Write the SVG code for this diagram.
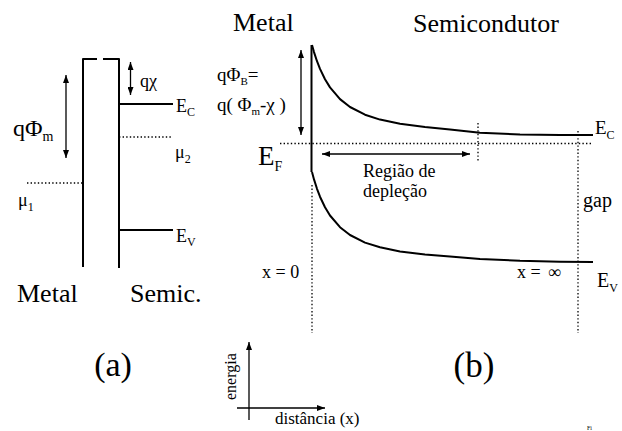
<svg xmlns="http://www.w3.org/2000/svg" width="622" height="431" viewBox="0 0 622 431">
<style>
text{font-family:"Liberation Serif","Times New Roman",serif;fill:#000}
.band{stroke:#000;stroke-width:2;fill:none;stroke-linejoin:round;stroke-linecap:butt}
.dot{stroke:#000;stroke-width:1.3;stroke-dasharray:1.4 2.2;fill:none}
.arr{stroke:#000;stroke-width:1.3;fill:none;marker-end:url(#ah);marker-start:url(#ah)}
.arr1{stroke:#000;stroke-width:1.3;fill:none;marker-end:url(#ah)}
.sub{font-size:12px}
</style>
<defs>
<marker id="ah" viewBox="0 0 8 6" refX="8" refY="3" markerWidth="8" markerHeight="6" markerUnits="userSpaceOnUse" orient="auto-start-reverse">
<path d="M0,0 L8,3 L0,6 z" fill="#000"/>
</marker>
</defs>
<rect width="622" height="431" fill="#fff"/>

<!-- Panel (a) -->
<g id="a-metal">
<path class="band" d="M83,267 V59 H97 M103,59 H119 V268"/>
<text x="17" y="302" font-size="26">Metal</text>
</g>
<g id="a-semic">
<line class="band" x1="119" y1="104" x2="173" y2="104"/>
<line class="band" x1="119" y1="230" x2="173" y2="230"/>
<text x="130" y="302" font-size="26">Semic.</text>
<text x="176" y="112" font-size="18">E<tspan class="sub" dy="4">C</tspan></text>
<text x="176" y="242" font-size="18">E<tspan class="sub" dy="4">V</tspan></text>
</g>
<g id="a-mu">
<line class="dot" x1="119" y1="137" x2="173" y2="137"/>
<line class="dot" x1="27" y1="183" x2="83" y2="183"/>
<text x="175" y="158" font-size="18">μ<tspan class="sub" dy="5">2</tspan></text>
<text x="18" y="206" font-size="18">μ<tspan class="sub" dy="5">1</tspan></text>
</g>
<g id="a-labels">
<text x="13" y="136" font-size="24">qΦ<tspan font-size="14" dy="5">m</tspan></text>
<text x="140" y="87" font-size="18">qχ</text>
<text x="113" y="376" font-size="34" text-anchor="middle">(a)</text>
</g>

<!-- Panel (b) -->
<g id="b-headers">
<text x="233" y="31" font-size="26">Metal</text>
<text x="413" y="32" font-size="26">Semicondutor</text>
<text x="474" y="377" font-size="35" text-anchor="middle">(b)</text>
</g>
<g id="b-bands">
<line class="band" x1="311.5" y1="45" x2="311.5" y2="172"/>
<polyline class="band" stroke-width="2.3" points="312,45 314,52.1 317,61.2 320,68.9 325,79.3 330,87.4 340,99.1 350,107 365,114.7 380,119.6 400,123.8 425,127 450,129.4 480,132.8 520,134.5 560,135 593,135"/>
<polyline class="band" stroke-width="2.3" points="312,172 314,179.4 317,188.8 320,196.7 325,207.3 330,215.5 340,227.2 350,235 365,242.6 380,247.3 400,251.4 425,254.5 450,256.6 480,259 520,260.8 560,261.7 593,262"/>
<text x="595" y="134" font-size="19">E<tspan class="sub" dy="5">C</tspan></text>
<text x="597" y="287" font-size="20">E<tspan class="sub" dy="5">V</tspan></text>
<text x="258" y="165" font-size="27">E<tspan font-size="14" dy="6">F</tspan></text>
<text x="583" y="207" font-size="20">gap</text>
</g>
<g id="b-barrier">
<text x="217" y="81" font-size="19">qΦ<tspan font-size="11" dy="4">B</tspan><tspan dy="-4">=</tspan></text>
<text x="217" y="111" font-size="19">q( Φ<tspan font-size="11" dy="4">m</tspan><tspan dy="-4">-χ )</tspan></text>
</g>
<g id="b-depletion">
<text x="363" y="177" font-size="18">Região de</text>
<text x="363" y="197" font-size="18">depleção</text>
</g>
<g id="b-positions">
<text x="262" y="278" font-size="18">x = 0</text>
<text x="517" y="278" font-size="18">x =<tspan x="548">∞</tspan></text>
</g>
<g id="axes">
<text transform="translate(236,400) rotate(-90)" font-size="16">energia</text>
<text x="275" y="424" font-size="17">distância (x)</text>
</g>
<text x="587" y="430" font-size="6">Fi</text>

<g id="connectors">
<line class="arr" x1="66" y1="75" x2="66" y2="158"/>
<line class="arr" x1="130.5" y1="62" x2="130.5" y2="95"/>
<line class="arr" x1="301" y1="50" x2="301" y2="135"/>
<line class="arr" x1="322" y1="154" x2="470" y2="154"/>
<line class="dot" x1="280" y1="143.5" x2="592" y2="143.5"/>
<line class="dot" x1="478" y1="123" x2="478" y2="162"/>
<line class="dot" x1="578" y1="131" x2="578" y2="333"/>
<line class="dot" x1="312" y1="185" x2="312" y2="333"/>
<line class="arr1" x1="249" y1="420" x2="249" y2="342"/>
<line class="arr1" x1="237" y1="408" x2="325" y2="408"/>
</g>
</svg>
